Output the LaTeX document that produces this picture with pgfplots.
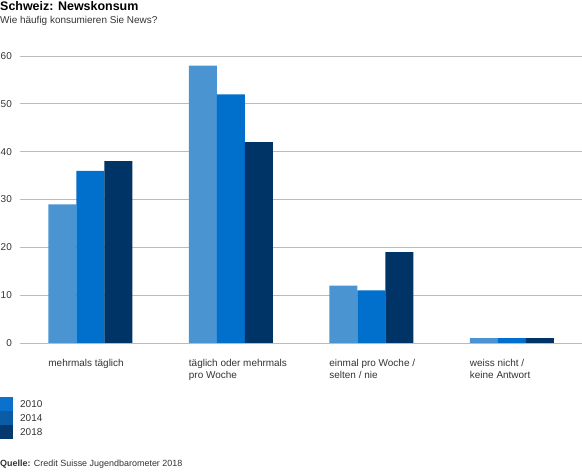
\documentclass[border=0pt]{standalone}
\usepackage{fontspec}
\setmainfont{Liberation Sans}
\usepackage{pgfplots}
\pgfplotsset{compat=1.18}
\definecolor{cA}{HTML}{4A94D1}
\definecolor{cB}{HTML}{0070CC}
\definecolor{cC}{HTML}{003366}
\definecolor{lA}{HTML}{0A72CC}
\definecolor{lB}{HTML}{0A5CA6}
\definecolor{lC}{HTML}{063870}
\definecolor{gridc}{HTML}{BBBBBB}
\definecolor{txt}{HTML}{333333}
\begin{document}
\begin{tikzpicture}[x=1bp,y=1bp]
\useasboundingbox (0,0) rectangle (582,473);
\begin{axis}[
 at={(20bp,130bp)}, anchor=south west,
 scale only axis, width=562bp, height=287bp,
 xmin=-0.5, xmax=3.5, ymin=0, ymax=60,
 ybar=0pt, bar width=28bp,
 ytick={0,10,...,60},
 xtick={0,1,2,3},
 xticklabels={mehrmals täglich, {täglich oder mehrmals\\pro Woche}, {einmal pro Woche /\\selten / nie}, {weiss nicht /\\keine Antwort}},
 ymajorgrids, grid style={gridc, line width=0.8bp},
 axis line style={draw=none},
 major tick length=0pt,
 tick label style={font=\fontsize{10}{12}\selectfont, text=txt},
 /pgf/number format/assume math mode=true,
 yticklabel style={anchor=east, inner sep=0pt, xshift=-8bp},
 xticklabel style={anchor=north west, align=left, inner sep=0pt, xshift=-42bp, yshift=-16bp},
 clip=false,
]
\addplot[fill=cA, draw=none] coordinates {(0,29) (1,58) (2,12) (3,1)};
\addplot[fill=cB, draw=none] coordinates {(0,36) (1,52) (2,11) (3,1)};
\addplot[fill=cC, draw=none] coordinates {(0,38) (1,42) (2,19) (3,1)};
\end{axis}
\node[anchor=base west, inner sep=0pt, font=\fontsize{12.5}{15}\selectfont\bfseries] at (0,462.5) {Schweiz: Newskonsum};
\node[anchor=base west, inner sep=0pt, font=\fontsize{10}{12}\selectfont, text=txt] at (0,449) {Wie häufig konsumieren Sie News?};
\fill[lA] (0,62) rectangle (13,76);
\fill[lB] (0,48) rectangle (13,62);
\fill[lC] (0,34) rectangle (13,48);
\node[anchor=west, inner sep=0pt, font=\fontsize{10}{12}\selectfont, text=txt] at (20,69) {2010};
\node[anchor=west, inner sep=0pt, font=\fontsize{10}{12}\selectfont, text=txt] at (20,55) {2014};
\node[anchor=west, inner sep=0pt, font=\fontsize{10}{12}\selectfont, text=txt] at (20,41) {2018};
\node[anchor=base west, inner sep=0pt, font=\fontsize{9}{11}\selectfont, text=txt] at (0,6) {\textbf{Quelle:} Credit Suisse Jugendbarometer 2018};
\end{tikzpicture}
\end{document}
